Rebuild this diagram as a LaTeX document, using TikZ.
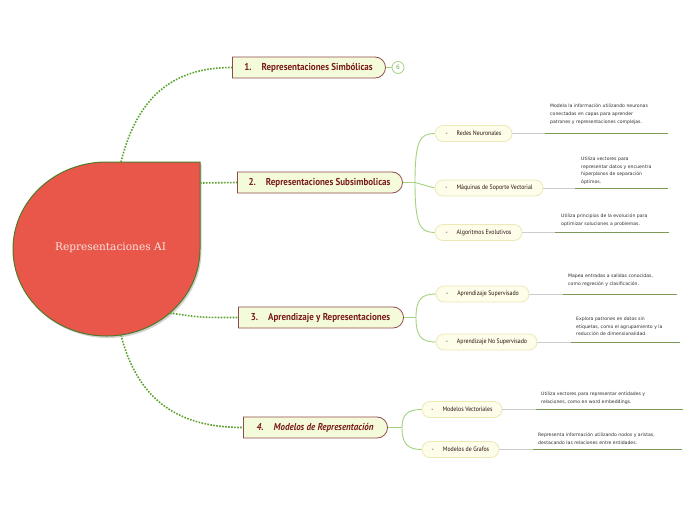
\documentclass[tikz,border=0pt]{standalone}
\usepackage{fontspec}
\usepackage{xcolor}
\usepackage{tikz}
\usetikzlibrary{shapes.misc}

\newfontfamily\centralfont{DejaVu Serif}
\newfontfamily\branchfont[FakeStretch=0.9]{PT Sans}
\newfontfamily\descfont{DejaVu Sans}

\definecolor{corered}{HTML}{E9574A}
\definecolor{coreline}{HTML}{4E7A2A}
\definecolor{coretext}{HTML}{FAE4DF}
\definecolor{dotgreen}{HTML}{5DA22E}
\definecolor{branchfill}{HTML}{F4FBDB}
\definecolor{branchline}{HTML}{8E4A4A}
\definecolor{branchtext}{HTML}{7B1D1D}
\definecolor{subfill}{HTML}{FDFDE9}
\definecolor{subline}{HTML}{EEE8B8}
\definecolor{subtext}{HTML}{2A1010}
\definecolor{linkgreen}{HTML}{A3D27F}
\definecolor{notegreen}{HTML}{7C9B57}
\definecolor{notegrey}{HTML}{CCCCCC}
\definecolor{notetext}{HTML}{2E2E2E}

\begin{document}
\begin{tikzpicture}[x=1pt, y=-1pt,
    branch/.style={draw=branchline, fill=branchfill, rounded rectangle, rounded rectangle left arc=none, line width=0.8pt, minimum height=21pt, inner sep=0pt, text=branchtext, font=\branchfont\bfseries\fontsize{10}{12}\selectfont},
    topic/.style={draw=subline, fill=subfill, rounded rectangle, line width=0.8pt, minimum height=16pt, inner sep=0pt, text=subtext, font=\branchfont\fontsize{6.5}{8}\selectfont},
    note/.style={anchor=north west, inner sep=0pt, align=left, text=notetext, font=\descfont\fontsize{4.6}{7.6}\selectfont},
    dots/.style={draw=dotgreen, line width=1.6pt, dash pattern=on 1.6pt off 1.4pt},
    link/.style={draw=linkgreen, line width=0.9pt},
    greyline/.style={draw=notegrey, line width=0.9pt},
    greenline/.style={draw=notegreen, line width=0.9pt}]
    \useasboundingbox[fill=white] (0,0) rectangle (696,520);

    \fill[black!18] (201.5,164) -- (201.5,251) .. controls (201.5,299) and (159.6,338) .. (108,338) .. controls (56.4,338) and (14.5,299) .. (14.5,251) .. controls (14.5,203) and (56.4,164) .. (108,164) -- cycle;
    \draw[fill=corered, draw=coreline, line width=1pt] (106.5,162) -- (200,162) -- (200,249) .. controls (200,297) and (158.1,336) .. (106.5,336) .. controls (54.9,336) and (13,297) .. (13,249) .. controls (13,201) and (54.9,162) .. (106.5,162) -- cycle;
    \node[text=coretext, font=\centralfont\fontsize{10.6}{12}\selectfont] (core) at (110.5,248) {Representaciones AI};
    \coordinate (core-n) at (121,162);
    \coordinate (core-e) at (200,183);
    \coordinate (core-se) at (170,313);
    \coordinate (core-s) at (121,335);

    \node[branch, minimum width=153pt] (simb) at (308.5,67.5) {1.\hspace{10pt}Representaciones Simbólicas};
    \node[branch, minimum width=165pt] (subs) at (319.5,182.5) {2.\hspace{10pt}Representaciones Subsimbolicas};
    \node[branch, minimum width=165pt] (apre) at (320.5,317.5) {3.\hspace{10pt}Aprendizaje y Representaciones};
    \node[branch, minimum width=144pt] (mode) at (315,427.5) {\itshape 4.\hspace{10pt}Modelos de Representación};
    \node[draw=linkgreen, fill=white, circle, line width=0.8pt, minimum size=12pt, inner sep=0pt, text=linkgreen!80!black, font=\descfont\fontsize{6}{7}\selectfont] (count) at (398,67.5) {6};

    \draw[dots] (core-n) .. controls (140,85) and (185,67.5) .. (simb.west);
    \draw[dots] (core-e) -- (subs.west);
    \draw[dots] (core-se) .. controls (200,317.5) .. (apre.west);
    \draw[dots] (core-s) .. controls (140,410) and (190,427.5) .. (mode.west);
    \draw[link] (simb.east) -- (count);

    \node[topic, minimum width=77pt] (redes) at (473.5,133.5) {-\hspace{9pt}Redes Neuronales};
    \node[topic, minimum width=108pt] (maqui) at (489,188) {-\hspace{9pt}Máquinas de Soporte Vectorial};
    \node[topic, minimum width=87pt] (algor) at (478.5,232.5) {-\hspace{9pt}Algoritmos Evolutivos};
    \node[topic, minimum width=93pt] (super) at (482.5,294) {-\hspace{9pt}Aprendizaje Supervisado};
    \node[topic, minimum width=101pt] (nosup) at (486.5,342) {-\hspace{9pt}Aprendizaje No Supervisado};
    \node[topic, minimum width=80pt] (vecto) at (462,409.5) {-\hspace{9pt}Modelos Vectoriales};
    \node[topic, minimum width=77pt] (grafo) at (460.5,449.5) {-\hspace{9pt}Modelos de Grafos};

    \coordinate (subs-j) at (415,182.5);
    \coordinate (apre-j) at (416,317.5);
    \coordinate (mode-j) at (402,427.5);
    \draw[link] (subs.east) -- (subs-j) -- (maqui.west);
    \draw[link] (subs-j) .. controls (415,140) and (420,133.5) .. (redes.west);
    \draw[link] (subs-j) .. controls (415,225) and (420,232.5) .. (algor.west);
    \draw[link] (apre.east) -- (apre-j);
    \draw[link] (apre-j) .. controls (416,300) and (421,294) .. (super.west);
    \draw[link] (apre-j) .. controls (416,336) and (421,342) .. (nosup.west);
    \draw[link] (mode.east) -- (mode-j);
    \draw[link] (mode-j) .. controls (402,415) and (407,409.5) .. (vecto.west);
    \draw[link] (mode-j) .. controls (402,443) and (407,449.5) .. (grafo.west);

    \coordinate (redes-m) at (545,133.5);
    \coordinate (redes-e) at (668,133.5);
    \coordinate (maqui-m) at (575,188);
    \coordinate (maqui-e) at (668,188);
    \coordinate (algor-m) at (555,232.5);
    \coordinate (algor-e) at (669,232.5);
    \coordinate (super-m) at (563,294);
    \coordinate (super-e) at (677,294);
    \coordinate (nosup-m) at (571,342);
    \coordinate (nosup-e) at (680,342);
    \coordinate (vecto-m) at (536,409.5);
    \coordinate (vecto-e) at (683,409.5);
    \coordinate (grafo-m) at (533,449.5);
    \coordinate (grafo-e) at (682,449.5);
    \draw[greyline] (redes.east) -- (redes-m);
    \draw[greenline] (redes-m) -- (redes-e);
    \draw[greyline] (maqui.east) -- (maqui-m);
    \draw[greenline] (maqui-m) -- (maqui-e);
    \draw[greyline] (algor.east) -- (algor-m);
    \draw[greenline] (algor-m) -- (algor-e);
    \draw[greyline] (super.east) -- (super-m);
    \draw[greenline] (super-m) -- (super-e);
    \draw[greyline] (nosup.east) -- (nosup-m);
    \draw[greenline] (nosup-m) -- (nosup-e);
    \draw[greyline] (vecto.east) -- (vecto-m);
    \draw[greenline] (vecto-m) -- (vecto-e);
    \draw[greyline] (grafo.east) -- (grafo-m);
    \draw[greenline] (grafo-m) -- (grafo-e);

    \node[note] (redes-t) at (550,104) {Modela la información utilizando neuronas\\conectadas en capas para aprender\\patrones y representaciones complejas.};
    \node[note] (maqui-t) at (581,157) {Utiliza vectores para\\representar datos y encuentra\\hiperplanos de separación\\óptimos.};
    \node[note] (algor-t) at (561,214) {Utiliza principios de la evolución para\\optimizar soluciones a problemas.};
    \node[note] (super-t) at (568,274) {Mapea entradas a salidas conocidas,\\como regresión y clasificación.};
    \node[note] (nosup-t) at (576,317) {Explora patrones en datos sin\\etiquetas, como el agrupamiento y la\\reducción de dimensionalidad.};
    \node[note] (vecto-t) at (541,392) {Utiliza vectores para representar entidades y\\relaciones, como en word embeddings.};
    \node[note] (grafo-t) at (538,433) {Representa información utilizando nodos y aristas,\\destacando las relaciones entre entidades.};
\end{tikzpicture}
\end{document}
